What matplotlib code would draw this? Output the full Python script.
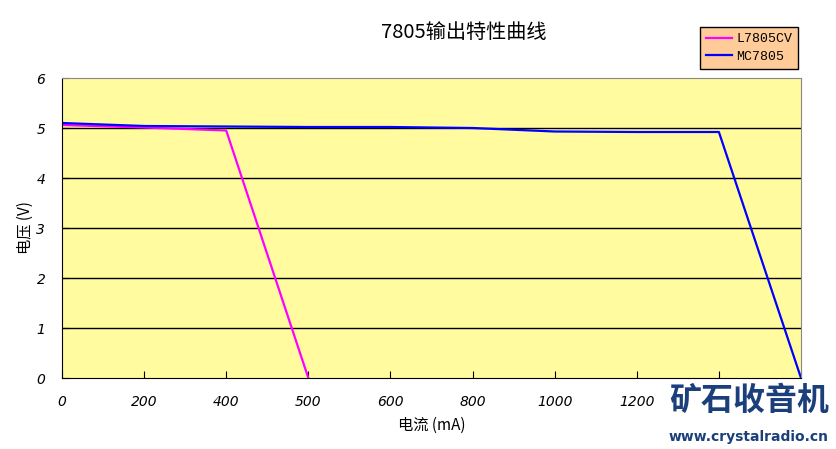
import matplotlib
matplotlib.use('Agg')
import matplotlib.pyplot as plt
import numpy as np

plt.rcParams['font.family'] = ['Noto Sans CJK SC', 'DejaVu Sans']

# category axis (Excel line chart), last two labels sit under the watermark
categories = ['0', '200', '400', '500', '600', '800', '1000', '1200', '1400', '1500']
l7805cv = [5.06, 5.01, 4.95, 0.0]
mc7805 = [5.10, 5.04, 5.03, 5.02, 5.02, 5.00, 4.93, 4.92, 4.92, 0.0]

fig = plt.figure(figsize=(8.36, 4.49), dpi=100)
ax = fig.add_axes([62/836, (449-378)/449, (801-62)/836, 300/449])
ax.set_facecolor('#FFFB9E')

pos = np.arange(len(categories))
ax.plot(pos[:len(l7805cv)], l7805cv, color='#FF00FF', lw=1.6, label='L7805CV')
ax.plot(pos[:len(mc7805)], mc7805, color='#0000FF', lw=1.6, label='MC7805')

ax.set_xlim(0, len(categories) - 1)
ax.set_ylim(0, 6)
ax.set_xticks(pos)
# the watermark hides the last two labels in the original
shown = [c if i < len(categories) - 2 else '' for i, c in enumerate(categories)]
ax.set_xticklabels(shown)
ax.set_yticks(range(0, 7))
for y in range(1, 6):
    ax.axhline(y, color='black', lw=1, zorder=0.5)

ax.tick_params(axis='x', direction='in', length=5, pad=12, labelsize=10)
ax.tick_params(axis='y', direction='in', length=5, pad=12, labelsize=10)
for lab in ax.get_xticklabels() + ax.get_yticklabels():
    lab.set_fontstyle('italic')
    lab.set_family('DejaVu Sans')

ax.spines['left'].set_color('black')
ax.spines['bottom'].set_color('black')
ax.spines['top'].set_color('#888888')
ax.spines['right'].set_color('#888888')

ax.set_xlabel('电流 (mA)', fontsize=11, labelpad=6)
ax.set_ylabel('电压 (V)', fontsize=11, labelpad=2)

fig.text(464/836, 1 - 32/449, '7805输出特性曲线', ha='center', va='center', fontsize=14.5)

leg = fig.legend(loc='upper right', bbox_to_anchor=(798/836, 1 - 27/449),
                 frameon=True, fancybox=False, handlelength=2.0, borderaxespad=0,
                 borderpad=0.45, labelspacing=0.4, handletextpad=0.3,
                 prop={'family': 'Liberation Mono', 'size': 9.5})
leg.get_frame().set_facecolor('#FFCC99')
leg.get_frame().set_edgecolor('black')
leg.get_frame().set_alpha(1)

# watermark
fig.text(749/836, 1 - 401/449, '矿石收音机', ha='center', va='center', fontsize=23,
         fontweight='bold', color='#1B3F7A')
fig.text(749/836, 1 - 437/449, 'www.crystalradio.cn', ha='center', va='center',
         fontsize=10, fontweight='bold', color='#1B3F7A', family='DejaVu Sans')

fig.savefig('out.png', dpi=100)
